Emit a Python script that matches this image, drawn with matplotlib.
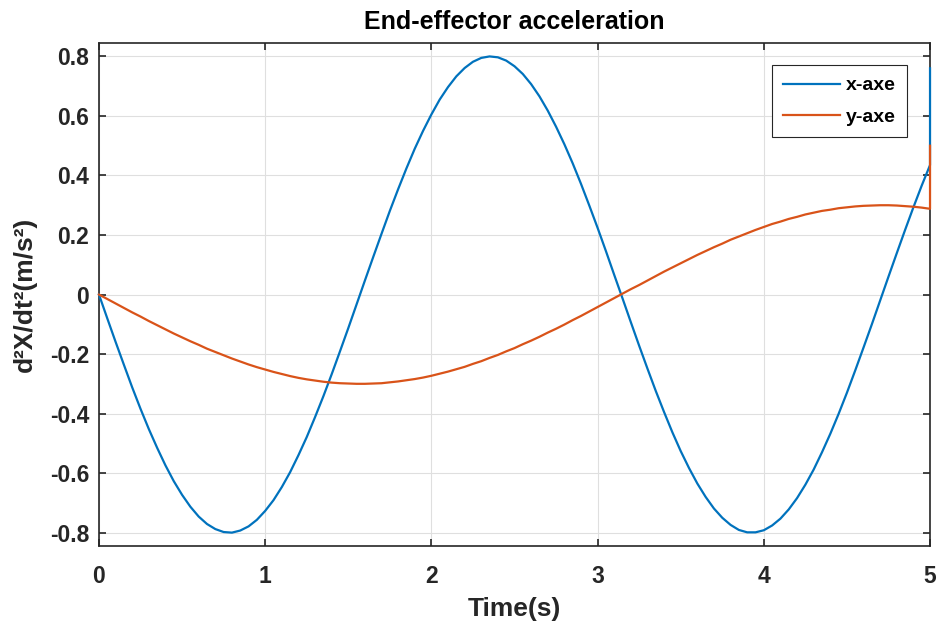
import numpy as np
import matplotlib.pyplot as plt

# ── Data (t in s, accel in m/s²) ────────────────────────────────────────
# samples every 0.05 s, plus the final jump drawn at t = 5
time = [0.00, 0.05, 0.10, 0.15, 0.20, 0.25, 0.30, 0.35, 0.40, 0.45,
        0.50, 0.55, 0.60, 0.65, 0.70, 0.75, 0.80, 0.85, 0.90, 0.95,
        1.00, 1.05, 1.10, 1.15, 1.20, 1.25, 1.30, 1.35, 1.40, 1.45,
        1.50, 1.55, 1.60, 1.65, 1.70, 1.75, 1.80, 1.85, 1.90, 1.95,
        2.00, 2.05, 2.10, 2.15, 2.20, 2.25, 2.30, 2.35, 2.40, 2.45,
        2.50, 2.55, 2.60, 2.65, 2.70, 2.75, 2.80, 2.85, 2.90, 2.95,
        3.00, 3.05, 3.10, 3.15, 3.20, 3.25, 3.30, 3.35, 3.40, 3.45,
        3.50, 3.55, 3.60, 3.65, 3.70, 3.75, 3.80, 3.85, 3.90, 3.95,
        4.00, 4.05, 4.10, 4.15, 4.20, 4.25, 4.30, 4.35, 4.40, 4.45,
        4.50, 4.55, 4.60, 4.65, 4.70, 4.75, 4.80, 4.85, 4.90, 4.95,
        5.00, 5.00]

acc_x = [0.0, -0.080, -0.159, -0.236, -0.312, -0.384, -0.452, -0.515, -0.574, -0.627,
         -0.673, -0.713, -0.746, -0.771, -0.788, -0.798, -0.800, -0.793, -0.779, -0.757,
         -0.727, -0.691, -0.647, -0.597, -0.540, -0.479, -0.412, -0.342, -0.268, -0.191,
         -0.113, -0.033, 0.047, 0.126, 0.204, 0.281, 0.354, 0.424, 0.490, 0.550,
         0.605, 0.655, 0.697, 0.733, 0.761, 0.782, 0.795, 0.800, 0.797, 0.786,
         0.767, 0.741, 0.707, 0.666, 0.618, 0.564, 0.505, 0.441, 0.372, 0.299,
         0.224, 0.146, 0.066, -0.013, -0.093, -0.172, -0.249, -0.324, -0.395, -0.463,
         -0.526, -0.583, -0.635, -0.680, -0.719, -0.750, -0.774, -0.791, -0.799, -0.799,
         -0.792, -0.776, -0.753, -0.722, -0.684, -0.639, -0.588, -0.530, -0.468, -0.401,
         -0.330, -0.255, -0.178, -0.100, -0.020, 0.060, 0.139, 0.217, 0.293, 0.366,
         0.435, 0.76]

acc_y = [0.0, -0.015, -0.030, -0.045, -0.060, -0.074, -0.089, -0.103, -0.117, -0.131,
         -0.144, -0.157, -0.169, -0.182, -0.193, -0.204, -0.215, -0.225, -0.235, -0.244,
         -0.252, -0.260, -0.267, -0.274, -0.280, -0.285, -0.289, -0.293, -0.296, -0.298,
         -0.299, -0.300, -0.300, -0.299, -0.298, -0.295, -0.292, -0.288, -0.284, -0.279,
         -0.273, -0.266, -0.259, -0.251, -0.243, -0.233, -0.224, -0.213, -0.203, -0.191,
         -0.180, -0.167, -0.155, -0.142, -0.128, -0.115, -0.101, -0.086, -0.072, -0.057,
         -0.042, -0.027, -0.012, 0.003, 0.018, 0.032, 0.047, 0.062, 0.077, 0.091,
         0.105, 0.119, 0.133, 0.146, 0.159, 0.171, 0.184, 0.195, 0.206, 0.217,
         0.227, 0.237, 0.245, 0.254, 0.261, 0.269, 0.275, 0.281, 0.285, 0.290,
         0.293, 0.296, 0.298, 0.299, 0.300, 0.300, 0.299, 0.297, 0.295, 0.292,
         0.288, 0.50]

x_ticks = [0, 1, 2, 3, 4, 5]
y_ticks = [-0.8, -0.6, -0.4, -0.2, 0, 0.2, 0.4, 0.6, 0.8]
y_tick_labels = ['-0.8', '-0.6', '-0.4', '-0.2', '0', '0.2', '0.4', '0.6', '0.8']

# ── Style ───────────────────────────────────────────────────────────────
plt.rcParams['font.family'] = ['Liberation Sans', 'DejaVu Sans']
plt.rcParams['font.weight'] = 'bold'
text_col = '#262626'

fig = plt.figure(figsize=(9.38, 6.3), dpi=100)
ax = fig.add_axes([0.1055, 0.1333, 0.886, 0.7984])

ax.plot(time, acc_x, color='#0072BD', linewidth=1.6, label='x-axe', clip_on=False, zorder=3)
ax.plot(time, acc_y, color='#D95319', linewidth=1.6, label='y-axe', clip_on=False, zorder=3)

ax.set_xlim(0, 5)
ax.set_ylim(-0.845, 0.845)
ax.set_xticks(x_ticks)
ax.set_yticks(y_ticks)
ax.set_yticklabels(y_tick_labels)

ax.grid(True, color='#dfdfdf', linewidth=0.8)
ax.set_axisbelow(True)
ax.tick_params(direction='in', length=5, width=1.2, top=True, right=True,
               labelsize=16.5, colors=text_col)
ax.tick_params(axis='x', pad=14)
ax.tick_params(axis='y', pad=7)
for lab in ax.get_xticklabels() + ax.get_yticklabels():
    lab.set_fontweight('bold')
for sp in ax.spines.values():
    sp.set_linewidth(1.2)
    sp.set_color(text_col)

ax.set_title('End-effector acceleration', fontsize=18, fontweight='bold', color='black', pad=10)
ax.set_xlabel('Time(s)', fontsize=19, fontweight='bold', color=text_col, labelpad=6)
ax.set_ylabel('d²X/dt²(m/s²)', fontsize=19, fontweight='bold', color=text_col, labelpad=9)

leg = ax.legend(loc='upper right', fontsize=14, frameon=True, fancybox=False,
                edgecolor='#262626', framealpha=1, borderpad=0.6, borderaxespad=0,
                handlelength=2.9, handletextpad=0.3, labelspacing=0.7,
                bbox_to_anchor=(0.9723, 0.956))
leg.get_frame().set_linewidth(0.8)
for t in leg.get_texts():
    t.set_fontweight('bold')
    t.set_color('black')

fig.savefig('out.png', dpi=100)
